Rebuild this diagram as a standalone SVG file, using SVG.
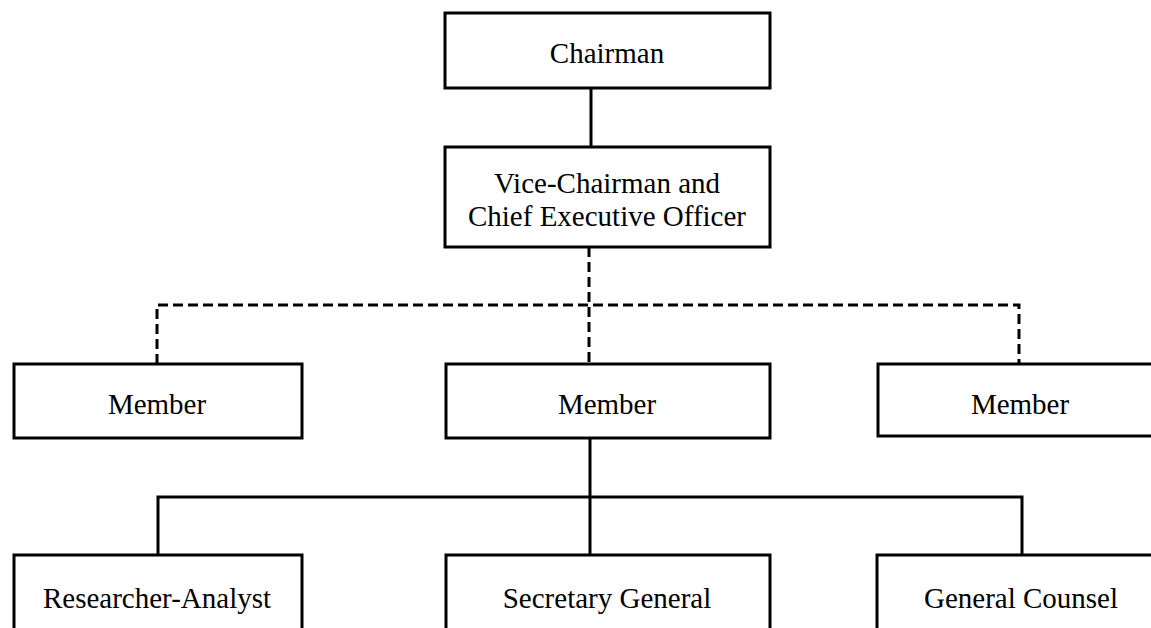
<svg xmlns="http://www.w3.org/2000/svg" width="1151" height="628" viewBox="0 0 1151 628">
<style>
.box{fill:#fff;stroke:#000;stroke-width:3}
.t{font-family:"Liberation Serif","Times New Roman",serif;font-size:29px;fill:#000;text-anchor:middle}
.c{fill:none;stroke:#000;stroke-width:3}
.d{stroke-dasharray:10,5}
</style>
<rect width="1151" height="628" fill="#fff"/>
<g id="connectors">
<path class="c" d="M591,88V147"/>
<path class="c d" d="M589,247V364"/>
<path class="c d" d="M157,364V305H1019V364"/>
<path class="c" d="M590,438V555"/>
<path class="c" d="M158,555V497H1022V555"/>
</g>
<g id="chairman"><rect class="box" x="445" y="13" width="325" height="75"/><text class="t" x="607" y="63">Chairman</text></g>
<g id="vice-chairman"><rect class="box" x="445" y="147" width="325" height="100"/><text class="t" x="607" y="193">Vice-Chairman and</text><text class="t" x="607" y="226">Chief Executive Officer</text></g>
<g id="member-left"><rect class="box" x="14" y="364" width="288" height="74"/><text class="t" x="157" y="414">Member</text></g>
<g id="member-center"><rect class="box" x="446" y="364" width="324" height="74"/><text class="t" x="607" y="414">Member</text></g>
<g id="member-right"><rect class="box" x="878" y="364" width="290" height="72"/><text class="t" x="1020" y="414">Member</text></g>
<g id="researcher-analyst"><rect class="box" x="14" y="555" width="288" height="90"/><text class="t" x="157" y="608">Researcher-Analyst</text></g>
<g id="secretary-general"><rect class="box" x="446" y="555" width="324" height="90"/><text class="t" x="607" y="608">Secretary General</text></g>
<g id="general-counsel"><rect class="box" x="877" y="555" width="290" height="90"/><text class="t" x="1021" y="608">General Counsel</text></g>
</svg>
